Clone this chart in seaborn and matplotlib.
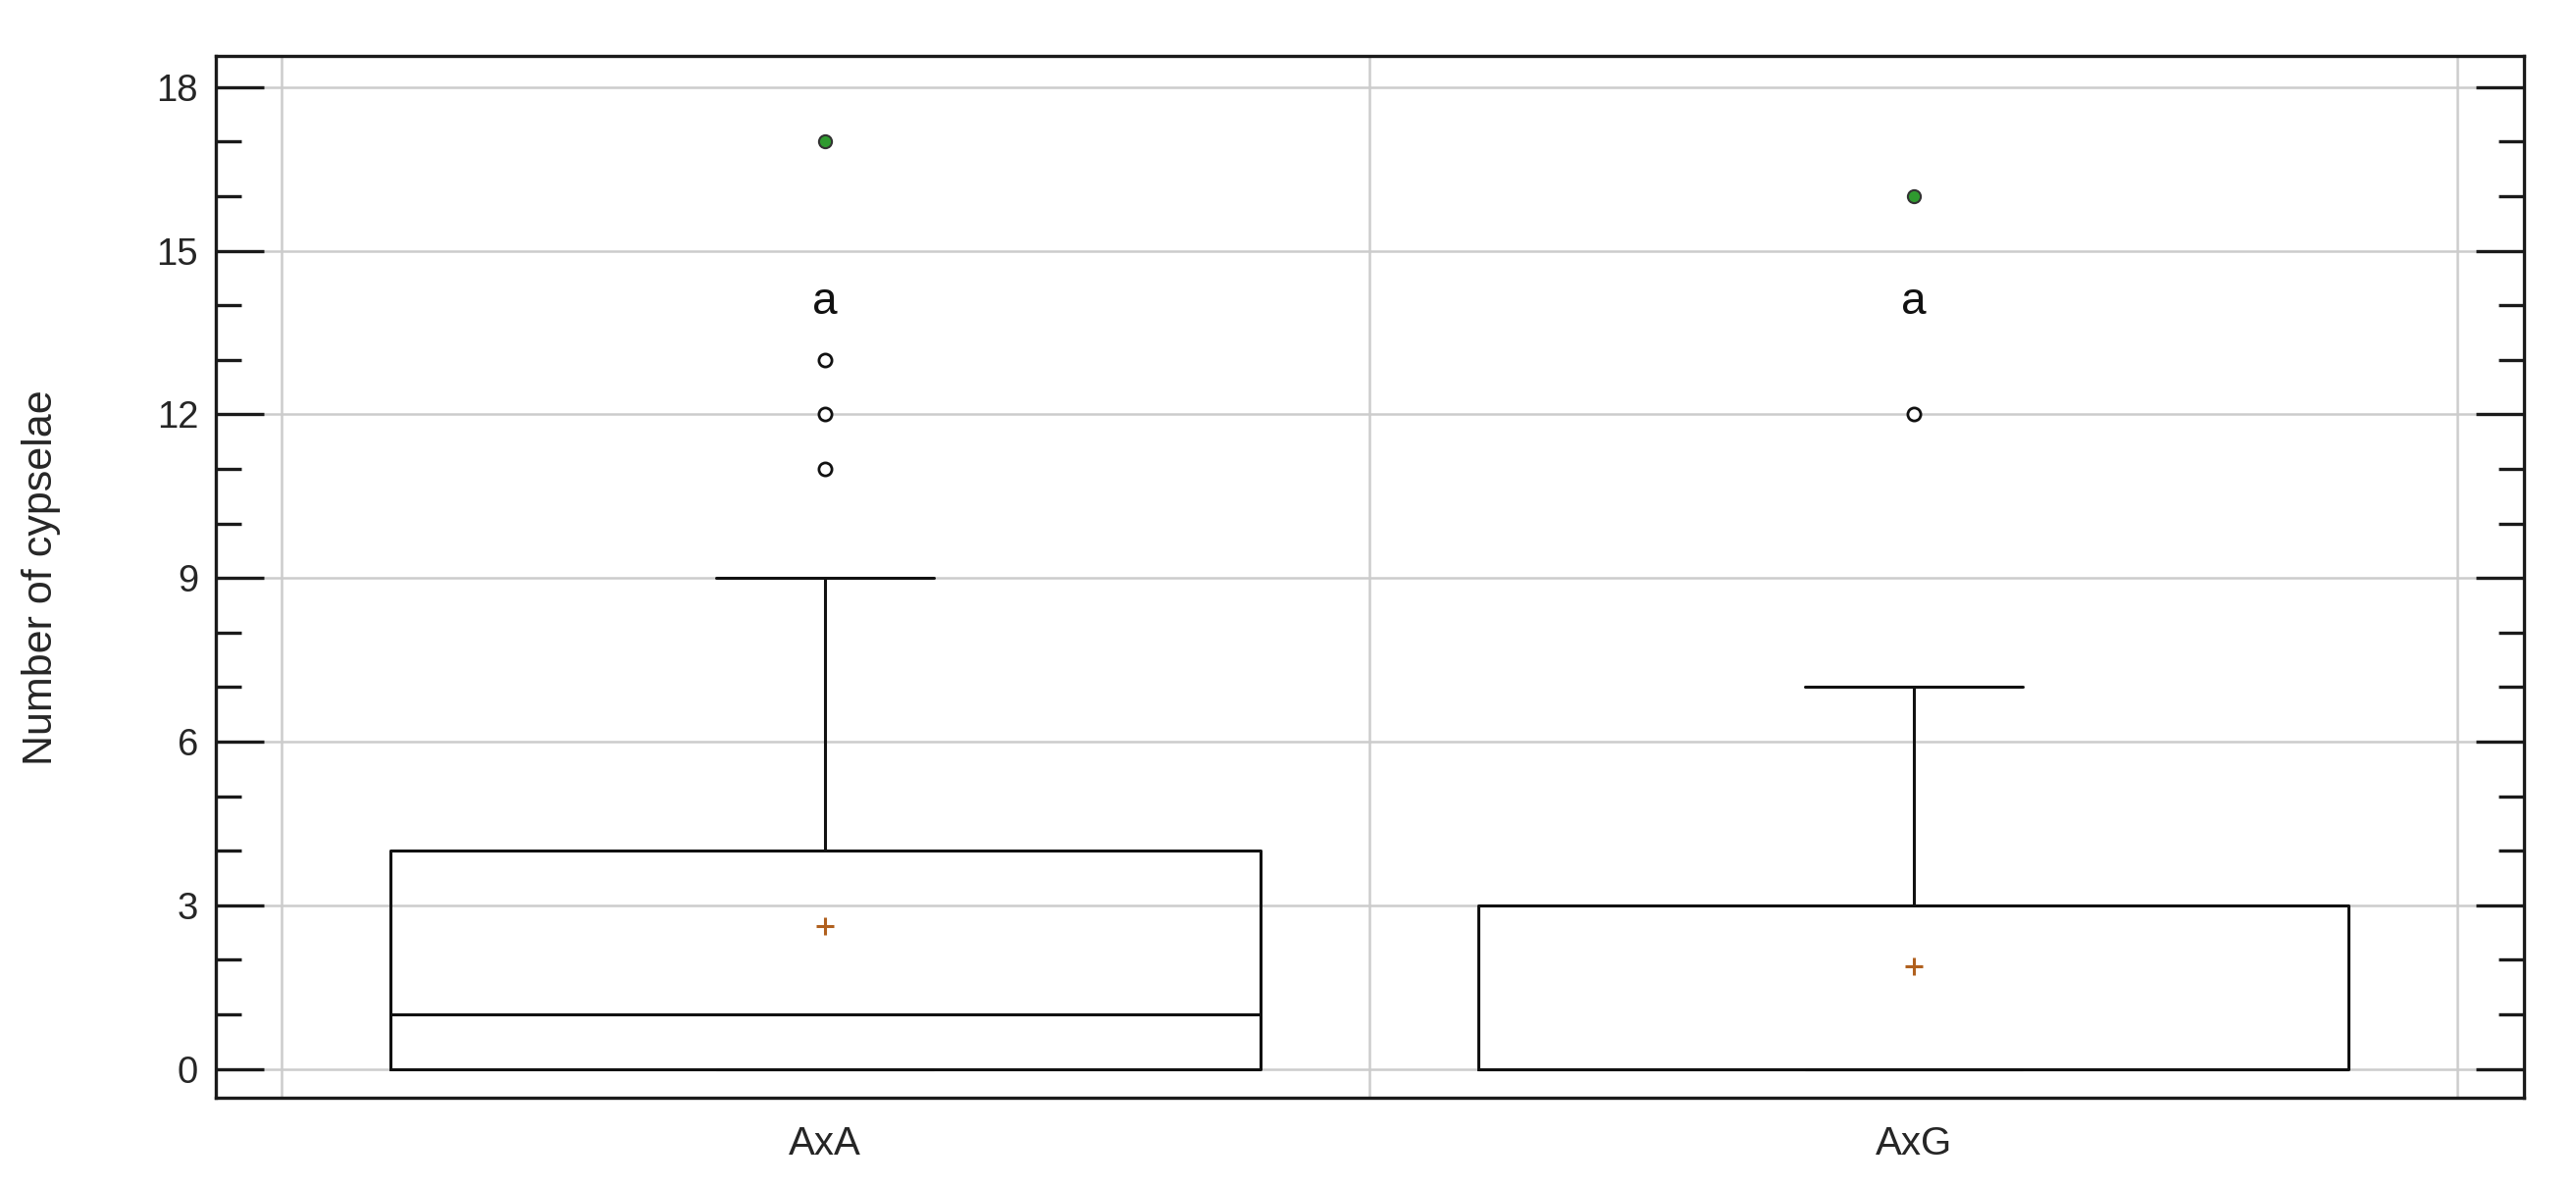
import numpy as np
import pandas as pd
import seaborn as sns
import matplotlib.pyplot as plt

groups = ["AxA", "AxG"]
# five-number summaries: min, q1, median, q3, upper whisker
axa_box = [0, 0, 1, 4, 9]
axg_box = [0, 0, 0, 3, 7]
means = [2.62, 1.88]
mild_axa = [11, 12, 13]
mild_axg = [12]
extreme_axa = [17]
extreme_axg = [16]
letters = ["a", "a"]
letter_y = 13.85

box_df = pd.DataFrame({
    "group": ["AxA"] * len(axa_box) + ["AxG"] * len(axg_box),
    "value": axa_box + axg_box,
})
mild_df = pd.DataFrame({
    "group": ["AxA"] * len(mild_axa) + ["AxG"] * len(mild_axg),
    "value": mild_axa + mild_axg,
})
extreme_df = pd.DataFrame({
    "group": ["AxA"] * len(extreme_axa) + ["AxG"] * len(extreme_axg),
    "value": extreme_axa + extreme_axg,
})
mean_df = pd.DataFrame({"group": groups, "mean": means})

sns.set_style("white")
plt.rcParams["font.family"] = ["Liberation Sans", "DejaVu Sans"]

fig, ax = plt.subplots(figsize=(26.26, 12.10), dpi=100)
fig.subplots_adjust(left=0.0838, right=0.9798, top=0.9526, bottom=0.0752)

sns.boxplot(data=box_df, x="group", y="value", order=groups, width=0.8,
            fill=False, color="#111111", linewidth=2.2, showfliers=False,
            capwidths=0.2, ax=ax)

sns.stripplot(data=mild_df, x="group", y="value", order=groups, jitter=False,
              color="white", edgecolor="#111111", linewidth=2, size=9.5,
              zorder=4, ax=ax)
sns.stripplot(data=extreme_df, x="group", y="value", order=groups, jitter=False,
              color="#2f9a2f", edgecolor="#333333", linewidth=1.5, size=9.5,
              zorder=4, ax=ax)

sns.pointplot(data=mean_df, x="group", y="mean", order=groups,
              color="#b0601e", marker="+", linestyle="none", markersize=13,
              markeredgewidth=2.2, errorbar=None, ax=ax)

for i, lt in enumerate(letters):
    ax.text(i, letter_y, lt, ha="center", va="baseline", fontsize=33,
            color="#111111")

ax.set_xlim(-0.56, 1.561)
ax.set_ylim(-0.53, 18.565)
ax.set_yticks(np.arange(0, 19, 3))
ax.set_yticks(np.arange(0, 19, 1), minor=True)
ax.set_xticks([0, 1])
ax.set_xticklabels(groups)
ax.set_xticks([-0.5, 0.5, 1.5], minor=True)

ax.tick_params(axis="y", which="major", direction="in", length=35, width=2.4,
               left=True, right=True, labelsize=27.5, pad=13, color="#1a1a1a")
ax.tick_params(axis="y", which="minor", direction="in", length=19, width=2.4,
               left=True, right=True, color="#1a1a1a")
ax.tick_params(axis="x", which="both", length=0, labelsize=29, pad=20)

ax.grid(False)
ax.grid(axis="y", which="major", color="#cccccc", linewidth=1.8)
ax.grid(axis="x", which="minor", color="#cccccc", linewidth=1.8)
ax.set_axisbelow(True)

for sp in ax.spines.values():
    sp.set_visible(True)
    sp.set_color("#1a1a1a")
    sp.set_linewidth(2.4)

ax.set_xlabel("")
ax.set_ylabel("Number of cypselae", fontsize=31)
ax.yaxis.set_label_coords(-0.067, 0.5)

fig.savefig("out.png", dpi=100)
